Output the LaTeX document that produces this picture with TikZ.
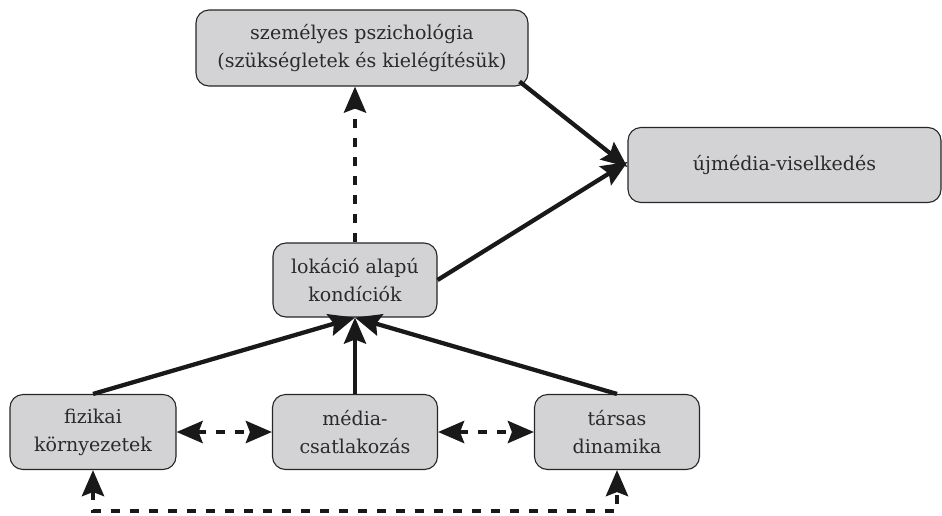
\documentclass[tikz,border=0pt]{standalone}
\usepackage{fontspec}
\setmainfont{DejaVu Serif}
\usetikzlibrary{arrows.meta}
\definecolor{boxfill}{HTML}{D3D3D5}
\definecolor{txt}{HTML}{2A2A2A}
\begin{document}
\begin{tikzpicture}[x=1pt,y=-1pt,
  box/.style={draw=black!85, line width=1.1pt, fill=boxfill, rounded corners=13pt,
    align=center, text=txt, font=\fontsize{19}{28}\selectfont, inner sep=0pt},
  big/.tip={Stealth[length=26pt,width=22pt,inset=4pt]},
  conn/.style={line width=4.3pt, black!90, -big},
  dconn/.style={conn, dash pattern=on 9pt off 10pt},
  ddconn/.style={line width=4.3pt, black!90, dash pattern=on 9pt off 10pt, big-big}
]
\useasboundingbox (0,0) rectangle (942,515);
\node[box, minimum width=332pt, minimum height=76pt] (top) at (362,48)
  {személyes pszichológia\\(szükségletek és kielégítésük)};
\node[box, minimum width=313pt, minimum height=75pt] (uj) at (784.5,165)
  {újmédia-viselkedés};
\node[box, minimum width=164pt, minimum height=74pt] (lok) at (355,280)
  {lokáció alapú\\kondíciók};
\node[box, minimum width=166pt, minimum height=75pt] (fiz) at (93,432)
  {fizikai\\környezetek};
\node[box, minimum width=165pt, minimum height=75pt] (med) at (355,432)
  {média-\\csatlakozás};
\node[box, minimum width=165pt, minimum height=75pt] (tar) at (617,432)
  {társas\\dinamika};
\coordinate (bot) at (93,511);

\draw[dconn] (lok.north) -- (lok.north |- top.south);
\draw[conn] ([shift={(-9,-5)}]top.south east) -- ([yshift=-2]uj.west);
\draw[conn] (lok.east) -- ([yshift=3]uj.west);
\draw[conn] (fiz.north) -- (lok.south);
\draw[conn] (med.north) -- (lok.south);
\draw[conn] (tar.north) -- (lok.south);
\draw[ddconn] (fiz.east) -- (med.west);
\draw[ddconn] (med.east) -- (tar.west);
\draw[ddconn] (fiz.south) -- (bot) -| (tar.south);
\end{tikzpicture}
\end{document}
